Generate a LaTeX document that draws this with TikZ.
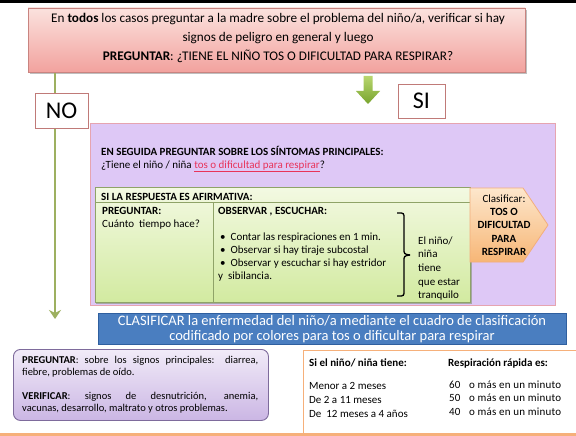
\documentclass[tikz,border=0pt]{standalone}
\usepackage{fontspec}
\setmainfont{Carlito}
\usetikzlibrary{arrows.meta}
\definecolor{redtop}{HTML}{FBE2DE}
\definecolor{redbot}{HTML}{F2A29E}
\definecolor{redbd}{HTML}{C98480}
\definecolor{purfill}{HTML}{DEC8F6}
\definecolor{purbd}{HTML}{E6A4B0}
\definecolor{grtop}{HTML}{F3F9E2}
\definecolor{grbot}{HTML}{D2EAA0}
\definecolor{grbd}{HTML}{8FA368}
\definecolor{ortop}{HTML}{FDE7CC}
\definecolor{orbot}{HTML}{F7B676}
\definecolor{orbd}{HTML}{F2AE7C}
\definecolor{bluefill}{HTML}{4A7EC0}
\definecolor{bluebd}{HTML}{2F5F9F}
\definecolor{lavtop}{HTML}{F1EBF8}
\definecolor{lavbot}{HTML}{CBB6E4}
\definecolor{lavbd}{HTML}{7E6B9C}
\definecolor{tabbd}{HTML}{F6B07A}
\definecolor{olive}{HTML}{9DB060}
\definecolor{arrtop}{HTML}{B8D66E}
\definecolor{arrbot}{HTML}{78A42E}
\definecolor{labbd}{HTML}{C07A78}
\definecolor{linkred}{HTML}{E8335A}
\tikzset{
  txt/.style={anchor=base west, inner sep=0pt, font=\fontsize{11}{13}\selectfont},
  btxt/.style={txt, font=\bfseries\fontsize{11}{13}\selectfont},
  labbox/.style={draw=labbd, line width=0.9pt, fill=white, inner sep=0pt, font=\fontsize{24}{24}\selectfont},
  mintxt/.style={txt, font=\fontsize{11}{13}\selectfont\addfontfeatures{LetterSpace=2}},
}
\begin{document}
\begin{tikzpicture}[x=1pt,y=-1pt]
\useasboundingbox (0,0) rectangle (576,436);
\fill[white] (0,0) rectangle (576,436);
\fill[black] (0,0) rectangle (576,3.5);

% top box
\fill[black!25] (30,10) rectangle (527,74);
\node[draw=redbd, line width=0.8pt, top color=redtop, bottom color=redbot,
      minimum width=497pt, minimum height=64pt, inner sep=0pt] (top) at (276.5,40) {};
\node[align=center, inner sep=0pt, font=\fontsize{13.2}{19}\selectfont] (toptxt) at (278,37.5)
 {En \textbf{todos} los casos preguntar a la madre sobre el problema del niño/a, verificar si hay\\
  signos de peligro en general y luego\\
  \textbf{PREGUNTAR}: ¿TIENE EL NIÑO TOS O DIFICULTAD PARA RESPIRAR?};

% NO branch
\coordinate (nos) at (55,73);
\coordinate (noe) at (55,319);
\draw[olive, line width=2.4pt, -{Stealth[length=9pt,width=12pt,inset=3pt]}] (nos) -- (noe);
\node[labbox, minimum width=53pt, minimum height=35pt] (no) at (61.5,110.5) {NO};

% SI branch arrow
\coordinate (a1) at (363.5,76);
\path[top color=arrtop, bottom color=arrbot]
  (a1) -- ++(9,0) -- ++(0,15) -- ++(7.5,0) -- ++(-12,13) -- ++(-12,-13) -- ++(7.5,0) -- cycle;
\node[labbox, minimum width=47pt, minimum height=34pt] (si) at (421.5,101) {SI};

% purple box
\node[draw=purbd, line width=0.9pt, fill=purfill, minimum width=465pt, minimum height=182pt,
      anchor=north west, inner sep=0pt] (sint) at (90,123) {};
\node[btxt] (q1) at (101,155) {EN SEGUIDA PREGUNTAR SOBRE LOS SÍNTOMAS PRINCIPALES:};
\node[txt] (q2) at (101,168) {¿Tiene el niño / niña \textcolor{linkred}{\underline{tos o dificultad para respirar}}?};

% green box
\fill[black!35] (96,189) rectangle (472,304);
\node[draw=grbd, line width=0.8pt, top color=grtop, bottom color=grbot, minimum width=375pt,
      minimum height=115pt, anchor=north west, inner sep=0pt] (gbox) at (95,187) {};
\draw[grbd, line width=0.7pt] (95,202.5) -- (470,202.5);
\draw[grbd, line width=0.7pt] (213,202.5) -- (213,302);
\node[btxt] (h1) at (101,200) {SI LA RESPUESTA ES AFIRMATIVA:};
\node[btxt] (p1) at (102,214.5) {PREGUNTAR:};
\node[txt] (p2) at (102,227) {Cuánto\ \ tiempo hace?};
\node[btxt] (o1) at (218,214.5) {OBSERVAR , ESCUCHAR:};
\node[txt] (b1) at (220,240) {\textbullet\ \ Contar las respiraciones en 1 min.};
\node[txt] (b2) at (220,253) {\textbullet\ \ Observar si hay tiraje subcostal};
\node[txt] (b3) at (220,266) {\textbullet\ \ Observar y escuchar si hay estridor};
\node[txt] (b4) at (218,279.5) {y\ \ sibilancia.};
\draw[black, line width=1.3pt, rounded corners=2.5pt]
  (397,213) -- (404,213) -- (404,254) -- (410,255);
\draw[black, line width=1.3pt, rounded corners=2.5pt]
  (397,296) -- (404,296) -- (404,256) -- (410,255);
\node[txt] (e1) at (418,244) {El niño/};
\node[txt] (e2) at (418,257) {niña};
\node[txt] (e3) at (418,271) {tiene};
\node[txt] (e4) at (418,285) {que estar};
\node[txt] (e5) at (418,298.5) {tranquilo};

% orange pentagon
\path[draw=orbd, line width=0.8pt, top color=ortop, bottom color=orbot]
  (470,188) -- (523,188) -- (548,225) -- (523,262) -- (470,262) -- cycle;
\node[align=center, inner sep=0pt, font=\fontsize{11}{13.3}\selectfont] (clas) at (504,225)
  {Clasificar:\\ \textbf{TOS O}\\ \textbf{DIFICULTAD}\\ \textbf{PARA}\\ \textbf{RESPIRAR}};

% blue box
\node[draw=bluebd, line width=0.8pt, fill=bluefill, minimum width=468pt, minimum height=31pt,
      anchor=north west, inner sep=0pt] (blue) at (98,313) {};
\node[align=center, text=white, inner sep=0pt, font=\fontsize{14.5}{15.5}\selectfont] (bluetxt) at (332,329)
  {CLASIFICAR la enfermedad del niño/a mediante el cuadro de clasificación\\
   codificado por colores para tos o dificultar para respirar};

% lavender rounded box
\node[draw=lavbd, line width=0.9pt, top color=lavtop, bottom color=lavbot, rounded corners=7pt,
      minimum width=255pt, minimum height=71pt, anchor=north west, inner sep=0pt] (lav) at (13,349) {};
\node[anchor=north west, inner sep=0pt, text width=236pt, align=justify,
      font=\fontsize{10.5}{12.5}\selectfont] (lavtxt) at (22,356)
  {\textbf{PREGUNTAR}: sobre los signos principales: diarrea,\linebreak fiebre, problemas de oído.\par\vspace{11pt}
   \textbf{VERIFICAR}: signos de desnutrición, anemia,\linebreak vacunas, desarrollo, maltrato y otros problemas.};

% orange table box
\draw[tabbd, line width=1pt] (580,350) -- (303,350) -- (303,433) -- (580,433);
\fill[tabbd] (0,433) rectangle (576,436);
\node[btxt] (t1) at (309,366) {Si el niño/ niña tiene:};
\node[btxt] (t2) at (448,366) {Respiración rápida es:};
\node[txt] (r1) at (309,389) {Menor a 2 meses};
\node[txt] (r2) at (309,403) {De 2 a 11 meses};
\node[txt] (r3) at (309,417) {De\ \ 12 meses a 4 años};
\node[txt] (n1) at (449,388) {60};
\node[txt] (n2) at (449,401) {50};
\node[txt] (n3) at (449,415) {40};
\node[mintxt] (m1) at (469,388) {o más en un minuto};
\node[mintxt] (m2) at (469,401) {o más en un minuto};
\node[mintxt] (m3) at (469,415) {o más en un minuto};
\end{tikzpicture}
\end{document}
